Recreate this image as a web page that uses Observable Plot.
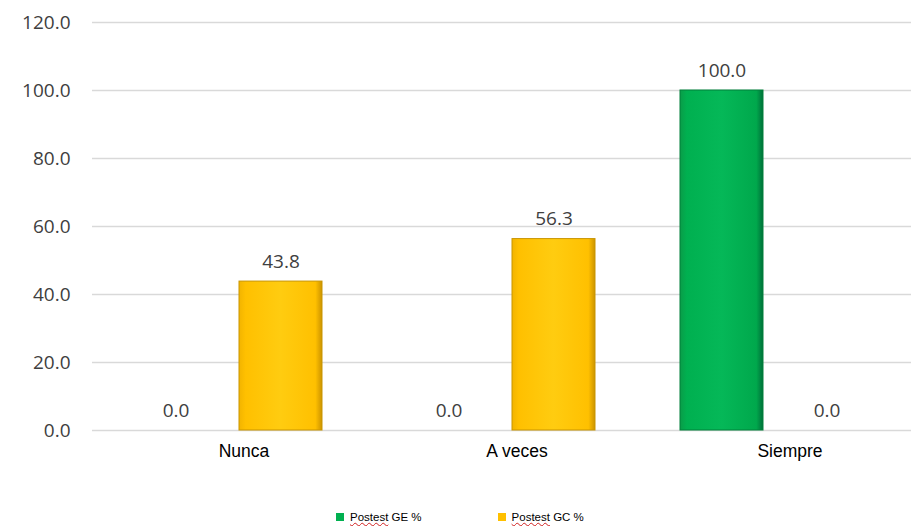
<!DOCTYPE html>
<html><head><meta charset="utf-8">
<script src="https://cdn.jsdelivr.net/npm/d3@7"></script>
<script src="https://cdn.jsdelivr.net/npm/@observablehq/plot@0.6"></script>
<style>
body{margin:0;background:#fff;}
#legend{display:flex;height:34px;align-items:center;font:11.5px "Liberation Sans",Arial,sans-serif;color:#000;padding-left:336px}
.item{display:flex;align-items:center;margin-right:76px}
.sw{width:8px;height:8px;margin-right:6px}
.w{text-decoration:underline wavy #d02020;text-decoration-thickness:1px;text-underline-offset:1px}
</style></head><body>
<div id="chart"></div><div id="legend"></div>
<script>
const categories = ["Nunca", "A veces", "Siempre"];
const series = ["Postest GE %", "Postest GC %"];
const geValues = [0.0, 0.0, 100.0];
const gcValues = [43.8, 56.3, 0.0];
const yTicks = [0, 20, 40, 60, 80, 100, 120];
const colors = ["#00B050", "#FFC000"];

const data = categories.flatMap((c, i) => [
  {category: c, series: series[0], value: geValues[i]},
  {category: c, series: series[1], value: gcValues[i]}
]);

const chart = Plot.plot({
  width: 911, height: 500,
  marginLeft: 91, marginRight: 0, marginTop: 22, marginBottom: 70,
  style: {fontFamily: "'Open Sans', sans-serif", background: "#fff"},
  fx: {domain: categories, padding: 0, label: null},
  x: {domain: series, paddingInner: 0.2075, paddingOuter: 0.401, axis: null},
  y: {domain: [0, 120], label: null},
  marks: [
    Plot.gridY(yTicks, {stroke: "#d9d9d9", strokeOpacity: 1, strokeWidth: 1.5}),
    Plot.axisY(yTicks, {tickSize: 0, tickPadding: 22, tickFormat: d3.format(".1f"), fontSize: 19, fill: "#404040", label: null}),
    Plot.axisFx({anchor: "bottom", tickSize: 0, tickPadding: 14, dx: 15, fontSize: 17.5, fontFamily: "'Liberation Sans', Arial, sans-serif", fill: "#000", label: null}),
    Plot.barY(data, {filter: d => d.series === series[0] && d.value > 0, fx: "category", x: "series", y: "value", fill: "url(#gGE)", stroke: "#00803a", strokeWidth: 1}),
    Plot.barY(data, {filter: d => d.series === series[1] && d.value > 0, fx: "category", x: "series", y: "value", fill: "url(#gGC)", stroke: "#c99500", strokeWidth: 1}),
    Plot.text(data, {fx: "category", x: "series", y: "value", text: d => d.value.toFixed(1), dy: -20, fontSize: 19, fill: "#404040"})
  ]
});

const svg = d3.select(chart);
const defs = svg.insert("defs", ":first-child");
function grad(id, stops) {
  const g = defs.append("linearGradient").attr("id", id).attr("x1", 0).attr("x2", 1).attr("y1", 0).attr("y2", 0);
  stops.forEach(([o, c]) => g.append("stop").attr("offset", o).attr("stop-color", c));
}
grad("gGE", [[0, "#0a9c48"], [0.08, "#00B050"], [0.5, "#05B858"], [0.92, "#00A84C"], [1, "#00703a"]]);
grad("gGC", [[0, "#f2b400"], [0.08, "#FFC000"], [0.5, "#FFCC10"], [0.92, "#FFC000"], [1, "#cc9400"]]);

document.getElementById("chart").appendChild(chart);

const legend = document.getElementById("legend");
series.forEach((s, i) => {
  const item = document.createElement("div");
  item.className = "item";
  const sw = document.createElement("div");
  sw.className = "sw"; sw.style.background = colors[i];
  const lbl = document.createElement("span");
  const parts = s.split(" ");
  lbl.innerHTML = `<span class="w">${parts[0]}</span> ${parts.slice(1).join(" ")}`;
  item.appendChild(sw); item.appendChild(lbl);
  legend.appendChild(item);
});
</script>
</body></html>
